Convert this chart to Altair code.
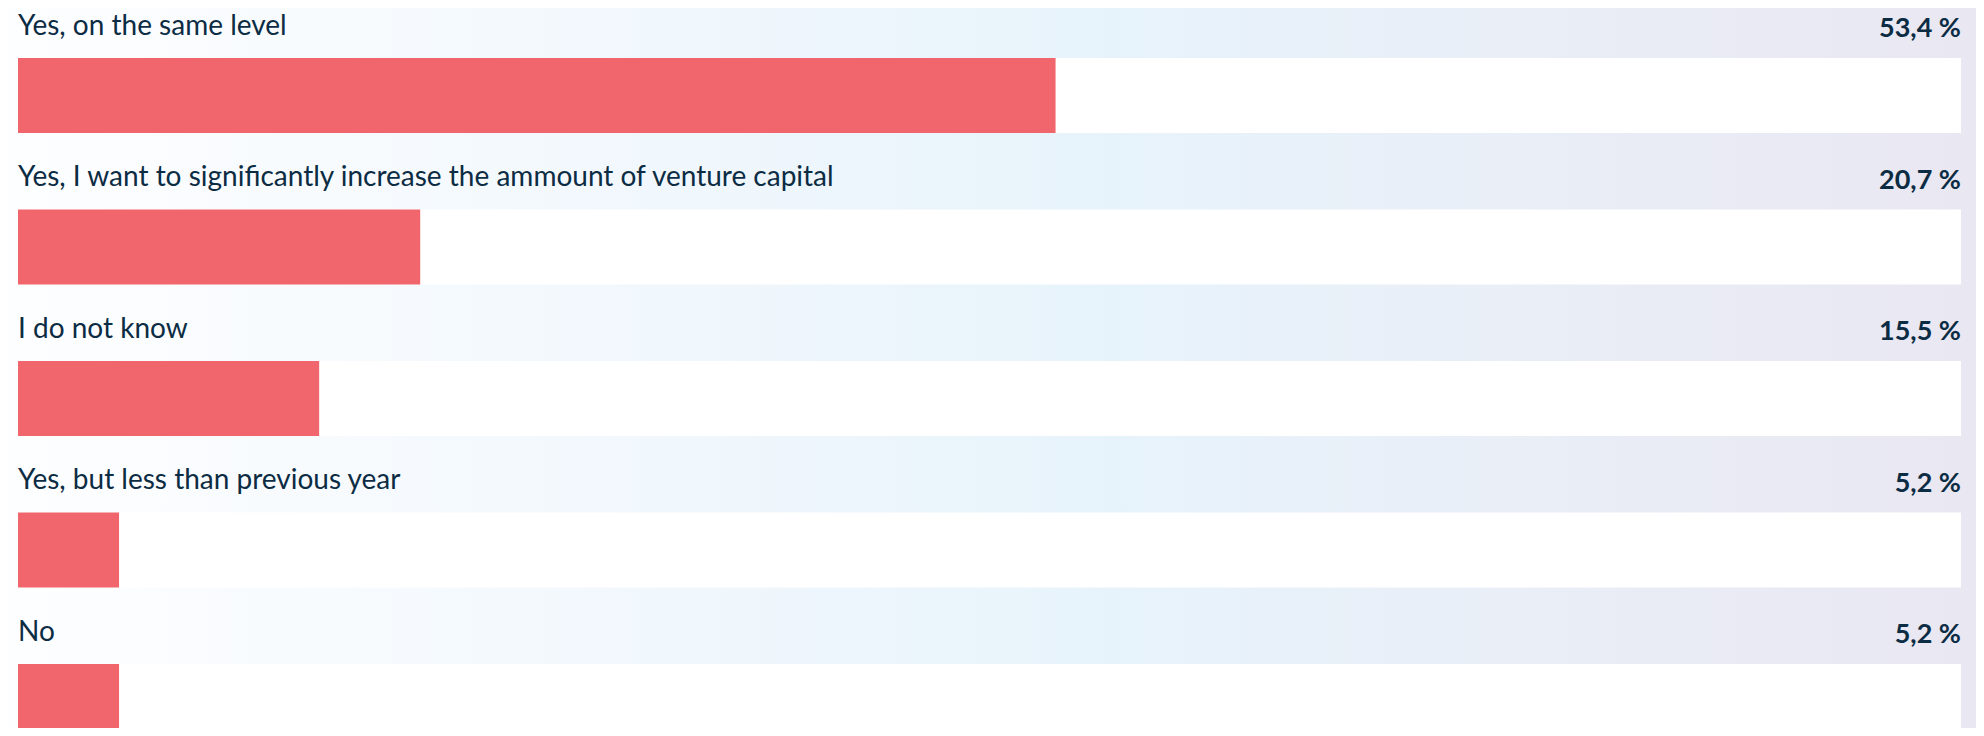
import altair as alt
import pandas as pd

categories = [
    "Yes, on the same level",
    "Yes, I want to significantly increase the ammount of venture capital",
    "I do not know",
    "Yes, but less than previous year",
    "No",
]
values = [53.4, 20.7, 15.5, 5.2, 5.2]
value_labels = ["53,4 %", "20,7 %", "15,5 %", "5,2 %", "5,2 %"]
track_total = [100, 100, 100, 100, 100]

df = pd.DataFrame({
    "category": categories,
    "value": values,
    "label": value_labels,
    "total": track_total,
})
bg = pd.DataFrame({"k": [0]})

W, H = 1968, 720
TEXT = "#0c2c44"
RED = "#f0666c"

xscale = alt.Scale(domain=[0, 100], range=[10, 1953], nice=False, zero=True)
yscale = alt.Scale(domain=categories, range=[-26.5, 731], paddingInner=0, paddingOuter=0)

gradient = alt.LinearGradient(
    gradient="linear",
    x1=0, x2=1, y1=0, y2=0,
    stops=[
        alt.GradientStop(color="#fdfeff", offset=0),
        alt.GradientStop(color="#f2f8fd", offset=0.3),
        alt.GradientStop(color="#e7f3fb", offset=0.56),
        alt.GradientStop(color="#e9eef7", offset=0.76),
        alt.GradientStop(color="#e9e7f2", offset=1),
    ],
)

background = alt.Chart(bg).mark_rect(fill=gradient).encode(
    x=alt.value(0), x2=alt.value(W), y=alt.value(0), y2=alt.value(H)
)

base = alt.Chart(df)

track = base.mark_bar(color="#ffffff", height=75, yOffset=38.25).encode(
    x=alt.X("total:Q", scale=xscale, axis=None),
    y=alt.Y("category:N", scale=yscale, axis=None, sort=categories),
)

bars = base.mark_bar(color=RED, height=75, yOffset=38.25).encode(
    x=alt.X("value:Q", scale=xscale, axis=None),
    y=alt.Y("category:N", scale=yscale, axis=None, sort=categories),
)

labels = base.mark_text(
    align="left", baseline="alphabetic", dy=-22.5,
    font="Lato", fontSize=28, color=TEXT,
).encode(
    x=alt.datum(0, scale=xscale),
    y=alt.Y("category:N", scale=yscale, axis=None, sort=categories),
    text="category:N",
)

vals = base.mark_text(
    align="right", baseline="alphabetic", dy=-20.25,
    font="Lato", fontSize=27, fontWeight="bold", color=TEXT,
).encode(
    x=alt.datum(100, scale=xscale),
    y=alt.Y("category:N", scale=yscale, axis=None, sort=categories),
    text="label:N",
)

chart = alt.layer(background, track, bars, labels, vals).properties(
    width=W, height=H,
    autosize=alt.AutoSizeParams(type="fit", contains="padding"),
    padding=0,
).configure_view(stroke=None).configure(background="#ffffff")

chart.save("out.html", embed_options={"renderer": "svg", "actions": False})
